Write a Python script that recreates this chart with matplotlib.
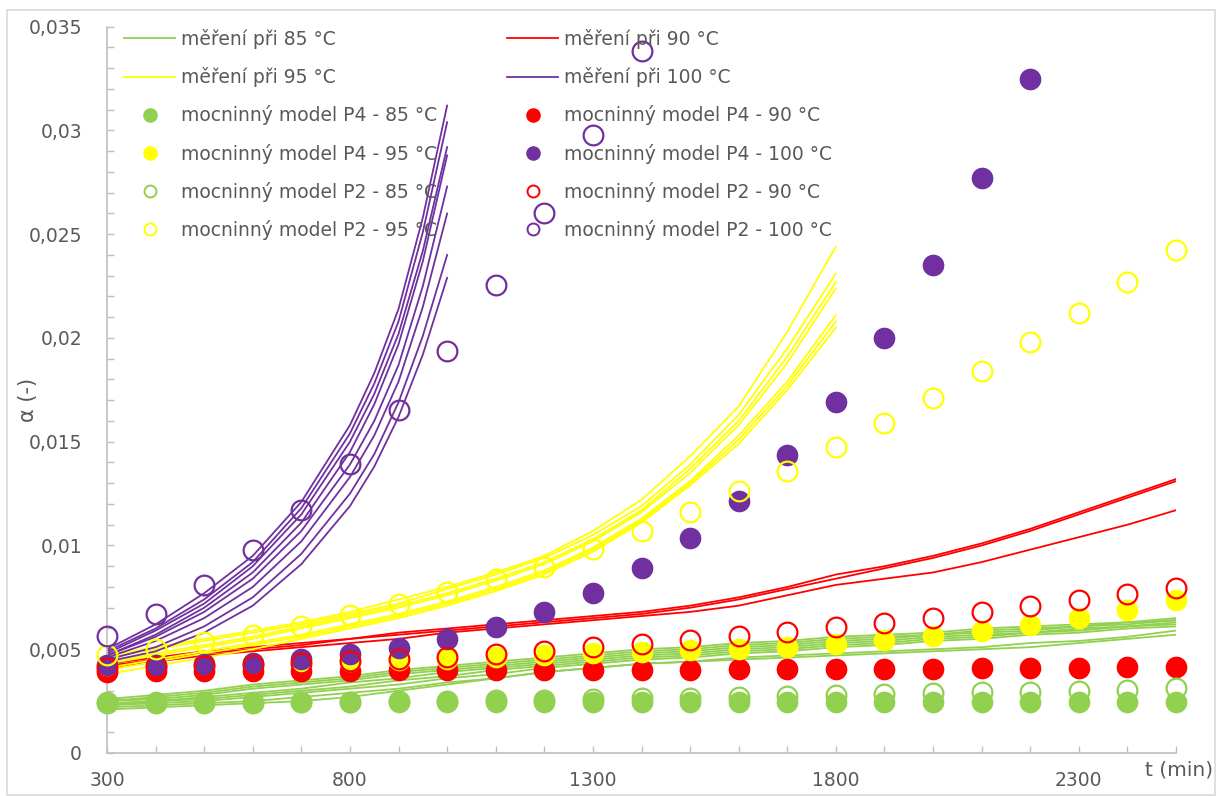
import matplotlib as mpl
import matplotlib.pyplot as plt
from matplotlib.lines import Line2D
from matplotlib.patches import Rectangle

mpl.rcParams['font.family'] = ['DejaVu Sans']

W, H = 1222, 796
TEXT = '#595959'
GRID = '#BFBFBF'
C85, C90, C95, C100 = '#92D050', '#FF0000', '#FFFF00', '#7030A0'

# time grid of the model points (min)
t_model = [300, 400, 500, 600, 700, 800, 900, 1000, 1100, 1200, 1300, 1400,
           1500, 1600, 1700, 1800, 1900, 2000, 2100, 2200, 2300, 2400, 2500]

p4_85 = [0.00245, 0.00245, 0.00245, 0.00245, 0.00245, 0.00245, 0.00245, 0.00245,
         0.00245, 0.00245, 0.00245, 0.00245, 0.00245, 0.00245, 0.00245, 0.00245,
         0.00245, 0.00245, 0.00245, 0.00245, 0.00245, 0.00245, 0.00245]
p4_90 = [0.00392, 0.00393, 0.00394, 0.00395, 0.00396, 0.00397, 0.00398, 0.00399,
         0.00399, 0.00400, 0.00400, 0.00401, 0.00402, 0.00403, 0.00404, 0.00405,
         0.00406, 0.00407, 0.00409, 0.00410, 0.00411, 0.00413, 0.00415]
p4_95 = [0.00425, 0.00428, 0.00431, 0.00434, 0.00438, 0.00442, 0.00448, 0.00455,
         0.00465, 0.00474, 0.00482, 0.00488, 0.00494, 0.00502, 0.00512, 0.00526,
         0.00543, 0.00563, 0.00588, 0.00617, 0.00651, 0.00690, 0.00736]
p4_100 = [0.00422, 0.00424, 0.00428, 0.00436, 0.00452, 0.00478, 0.00508, 0.00550,
          0.00607, 0.00679, 0.00772, 0.00891, 0.01037, 0.01216, 0.01437, 0.01692,
          0.02000, 0.02354, 0.02771, 0.03249]
p2_85 = [0.00240, 0.00241, 0.00242, 0.00243, 0.00245, 0.00247, 0.00249, 0.00251,
         0.00254, 0.00257, 0.00261, 0.00264, 0.00267, 0.00271, 0.00275, 0.00279,
         0.00283, 0.00287, 0.00292, 0.00296, 0.00301, 0.00306, 0.00311]
p2_90 = [0.00410, 0.00413, 0.00418, 0.00425, 0.00434, 0.00444, 0.00453, 0.00463,
         0.00477, 0.00493, 0.00510, 0.00527, 0.00544, 0.00564, 0.00584, 0.00605,
         0.00628, 0.00652, 0.00679, 0.00707, 0.00736, 0.00765, 0.00796]
p2_95 = [0.00470, 0.00499, 0.00535, 0.00570, 0.00614, 0.00663, 0.00716, 0.00778,
         0.00840, 0.00898, 0.00981, 0.01070, 0.01160, 0.01261, 0.01361, 0.01473,
         0.01590, 0.01713, 0.01840, 0.01980, 0.02120, 0.02269, 0.02426]
p2_100 = [0.00565, 0.00672, 0.00808, 0.00976, 0.01172, 0.01393, 0.01652, 0.01938,
          0.02253, 0.02600, 0.02980, 0.03385]

# measured curves
t_85 = t_model
meas_85 = [
    [0.0026, 0.0028, 0.0030, 0.0033, 0.0035, 0.0037, 0.0040, 0.0042, 0.0044, 0.0046, 0.0048, 0.0050,
     0.0051, 0.0053, 0.0054, 0.0056, 0.0057, 0.0058, 0.0060, 0.0061, 0.0062, 0.0063, 0.0065],
    [0.0025, 0.0027, 0.0029, 0.0032, 0.0034, 0.0036, 0.0039, 0.0041, 0.0043, 0.0045, 0.0047, 0.0049,
     0.0050, 0.0052, 0.0053, 0.0055, 0.0056, 0.0057, 0.0059, 0.0060, 0.0061, 0.0063, 0.0064],
    [0.0025, 0.0026, 0.0028, 0.0031, 0.0033, 0.0035, 0.0038, 0.0040, 0.0042, 0.0044, 0.0046, 0.0048,
     0.0049, 0.0051, 0.0052, 0.0054, 0.0055, 0.0057, 0.0058, 0.0059, 0.0061, 0.0062, 0.0064],
    [0.0024, 0.0025, 0.0027, 0.0029, 0.0031, 0.0034, 0.0036, 0.0039, 0.0041, 0.0043, 0.0045, 0.0047,
     0.0048, 0.0050, 0.0051, 0.0053, 0.0054, 0.0056, 0.0057, 0.0058, 0.0060, 0.0061, 0.0063],
    [0.0023, 0.0025, 0.0026, 0.0028, 0.0030, 0.0032, 0.0035, 0.0037, 0.0040, 0.0042, 0.0044, 0.0046,
     0.0047, 0.0049, 0.0050, 0.0052, 0.0053, 0.0055, 0.0056, 0.0058, 0.0059, 0.0061, 0.0062],
    [0.0023, 0.0024, 0.0025, 0.0027, 0.0029, 0.0031, 0.0033, 0.0036, 0.0038, 0.0041, 0.0043, 0.0045,
     0.0046, 0.0048, 0.0049, 0.0051, 0.0052, 0.0054, 0.0055, 0.0057, 0.0058, 0.0060, 0.0061],
    [0.0022, 0.0023, 0.0024, 0.0025, 0.0027, 0.0029, 0.0031, 0.0034, 0.0036, 0.0039, 0.0041, 0.0043,
     0.0044, 0.0046, 0.0047, 0.0048, 0.0049, 0.0050, 0.0051, 0.0053, 0.0054, 0.0056, 0.0059],
    [0.0021, 0.0022, 0.0023, 0.0024, 0.0025, 0.0027, 0.0030, 0.0033, 0.0036, 0.0039, 0.0041, 0.0043,
     0.0044, 0.0045, 0.0046, 0.0047, 0.0048, 0.0049, 0.0050, 0.0051, 0.0053, 0.0055, 0.0057],
]

t_90 = t_model
meas_90 = [
    [0.0043, 0.0046, 0.0049, 0.0051, 0.0053, 0.0055, 0.0058, 0.0060, 0.0062, 0.0064, 0.0066, 0.0068,
     0.0071, 0.0075, 0.0080, 0.0086, 0.0090, 0.0095, 0.0101, 0.0108, 0.0116, 0.0124, 0.0132],
    [0.0042, 0.0045, 0.0048, 0.0050, 0.0052, 0.0055, 0.0057, 0.0059, 0.0061, 0.0063, 0.0065, 0.0067,
     0.0070, 0.0074, 0.0079, 0.0084, 0.0089, 0.0094, 0.0100, 0.0107, 0.0115, 0.0123, 0.0131],
    [0.0041, 0.0044, 0.0047, 0.0049, 0.0051, 0.0053, 0.0055, 0.0058, 0.0060, 0.0062, 0.0064, 0.0066,
     0.0068, 0.0071, 0.0076, 0.0081, 0.0084, 0.0087, 0.0092, 0.0098, 0.0104, 0.0110, 0.0117],
]

t_95 = [300, 400, 500, 600, 700, 800, 900, 1000, 1100, 1200, 1300, 1400, 1500, 1600, 1700, 1800]
meas_95 = [
    [0.0047, 0.0051, 0.0055, 0.0059, 0.0063, 0.0068, 0.0074, 0.0080, 0.0087, 0.0095, 0.0107, 0.0122,
     0.0143, 0.0167, 0.0203, 0.0244],
    [0.0046, 0.0050, 0.0054, 0.0058, 0.0062, 0.0067, 0.0072, 0.0079, 0.0086, 0.0094, 0.0105, 0.0119,
     0.0139, 0.0163, 0.0195, 0.0231],
    [0.0044, 0.0048, 0.0052, 0.0056, 0.0061, 0.0066, 0.0071, 0.0077, 0.0084, 0.0092, 0.0103, 0.0117,
     0.0137, 0.0160, 0.0191, 0.0227],
    [0.0043, 0.0047, 0.0051, 0.0055, 0.0060, 0.0065, 0.0070, 0.0076, 0.0083, 0.0091, 0.0102, 0.0116,
     0.0135, 0.0158, 0.0188, 0.0224],
    [0.0041, 0.0045, 0.0049, 0.0053, 0.0057, 0.0062, 0.0067, 0.0073, 0.0080, 0.0088, 0.0099, 0.0113,
     0.0131, 0.0153, 0.0179, 0.0211],
    [0.0040, 0.0044, 0.0048, 0.0052, 0.0056, 0.0061, 0.0066, 0.0072, 0.0079, 0.0087, 0.0098, 0.0112,
     0.0130, 0.0151, 0.0177, 0.0208],
    [0.0038, 0.0042, 0.0046, 0.0050, 0.0055, 0.0060, 0.0065, 0.0071, 0.0078, 0.0086, 0.0097, 0.0111,
     0.0129, 0.0149, 0.0175, 0.0205],
]

t_100 = [300, 400, 500, 600, 700, 800, 850, 900, 950, 1000]
meas_100 = [
    [0.0050, 0.0062, 0.0077, 0.0095, 0.0121, 0.0158, 0.0183, 0.0214, 0.0258, 0.0312],
    [0.0049, 0.0060, 0.0074, 0.0092, 0.0118, 0.0154, 0.0178, 0.0208, 0.0251, 0.0304],
    [0.0048, 0.0059, 0.0072, 0.0090, 0.0115, 0.0150, 0.0173, 0.0202, 0.0242, 0.0292],
    [0.0047, 0.0057, 0.0070, 0.0087, 0.0111, 0.0145, 0.0168, 0.0197, 0.0237, 0.0288],
    [0.0047, 0.0056, 0.0068, 0.0084, 0.0107, 0.0139, 0.0160, 0.0187, 0.0225, 0.0273],
    [0.0046, 0.0054, 0.0065, 0.0080, 0.0102, 0.0133, 0.0153, 0.0179, 0.0215, 0.0260],
    [0.0045, 0.0051, 0.0061, 0.0075, 0.0096, 0.0125, 0.0144, 0.0169, 0.0201, 0.0240],
    [0.0044, 0.0049, 0.0058, 0.0071, 0.0091, 0.0119, 0.0138, 0.0162, 0.0192, 0.0229],
]

x_ticks = [300, 800, 1300, 1800, 2300]
y_ticks = [0, 0.005, 0.01, 0.015, 0.02, 0.025, 0.03, 0.035]
y_tick_labels = ['0', '0,005', '0,01', '0,015', '0,02', '0,025', '0,03', '0,035']

fig = plt.figure(figsize=(W / 100, H / 100), dpi=100)
ax = fig.add_axes([107 / W, 1 - 753 / H, 1069 / W, (753 - 26.7) / H])

LW = 1.3
for curves, tt, col in [(meas_85, t_85, C85), (meas_90, t_90, C90),
                        (meas_95, t_95, C95), (meas_100, t_100, C100)]:
    for c in curves:
        ax.plot(tt, c, color=col, lw=LW, zorder=2)

MS_F = 15.6   # filled disc
MS_O = 14.2   # open ring
EW = 1.6
for y, col in [(p4_85, C85), (p4_90, C90), (p4_95, C95), (p4_100, C100)]:
    ax.plot(t_model[:len(y)], y, 'o', ms=MS_F, mfc=col, mec=col, mew=0,
            clip_on=False, zorder=3)
for y, col in [(p2_85, C85), (p2_90, C90), (p2_95, C95), (p2_100, C100)]:
    ax.plot(t_model[:len(y)], y, 'o', ms=MS_O, mfc='none', mec=col, mew=EW,
            clip_on=False, zorder=4)

ax.set_xlim(300, 2500)
ax.set_ylim(0, 0.035)
ax.set_xticks(x_ticks)
ax.set_xticks(range(300, 2501, 100), minor=True)
ax.set_yticks(y_ticks)
ax.set_yticklabels(y_tick_labels)
ax.set_yticks([i / 1000 for i in range(0, 36)], minor=True)
for s in ['top', 'right']:
    ax.spines[s].set_visible(False)
for s in ['left', 'bottom']:
    ax.spines[s].set_color(GRID)
    ax.spines[s].set_linewidth(1.2)
ax.tick_params(which='both', direction='in', length=5, width=1, color=GRID,
               labelcolor=TEXT, labelsize=13.5)
ax.tick_params(axis='y', pad=18)
ax.tick_params(axis='x', pad=13)
ax.set_facecolor('none')

fig.text(1213 / W, 1 - 770 / H, 't (min)', ha='right', va='center',
         fontsize=14.5, color=TEXT)
fig.text(28 / W, 1 - 400 / H, 'α (-)', ha='center', va='center', rotation=90,
         fontsize=15, color=TEXT)

# legend, two columns
def line_h(col):
    return Line2D([], [], color=col, lw=1.3)

def dot_h(col, filled):
    if filled:
        return Line2D([], [], ls='none', marker='o', ms=10.5, mfc=col, mec=col, mew=0)
    return Line2D([], [], ls='none', marker='o', ms=8.6, mfc='none', mec=col, mew=1.4)

col1 = [(line_h(C85), 'měření při 85 °C'), (line_h(C95), 'měření při 95 °C'),
        (dot_h(C85, True), 'mocninný model P4 - 85 °C'), (dot_h(C95, True), 'mocninný model P4 - 95 °C'),
        (dot_h(C85, False), 'mocninný model P2 - 85 °C'), (dot_h(C95, False), 'mocninný model P2 - 95 °C')]
col2 = [(line_h(C90), 'měření při 90 °C'), (line_h(C100), 'měření při 100 °C'),
        (dot_h(C90, True), 'mocninný model P4 - 90 °C'), (dot_h(C100, True), 'mocninný model P4 - 100 °C'),
        (dot_h(C90, False), 'mocninný model P2 - 90 °C'), (dot_h(C100, False), 'mocninný model P2 - 100 °C')]

for entries, x0 in [(col1, 124), (col2, 507)]:
    leg = fig.legend([e[0] for e in entries], [e[1] for e in entries],
                     loc='upper left', bbox_to_anchor=(x0 / W, 1 - 29 / H),
                     frameon=False, fontsize=13.5, borderpad=0, borderaxespad=0,
                     handlelength=2.72, handletextpad=0.32, labelspacing=0.97,
                     labelcolor=TEXT)
    leg.set_zorder(1)

fig.patches.append(Rectangle((7 / W, 1 - 795 / H), (1215 - 7) / W, (795 - 10) / H,
                             transform=fig.transFigure, fill=False,
                             ec='#D9D9D9', lw=1.2))

fig.savefig('out.png', dpi=100)
